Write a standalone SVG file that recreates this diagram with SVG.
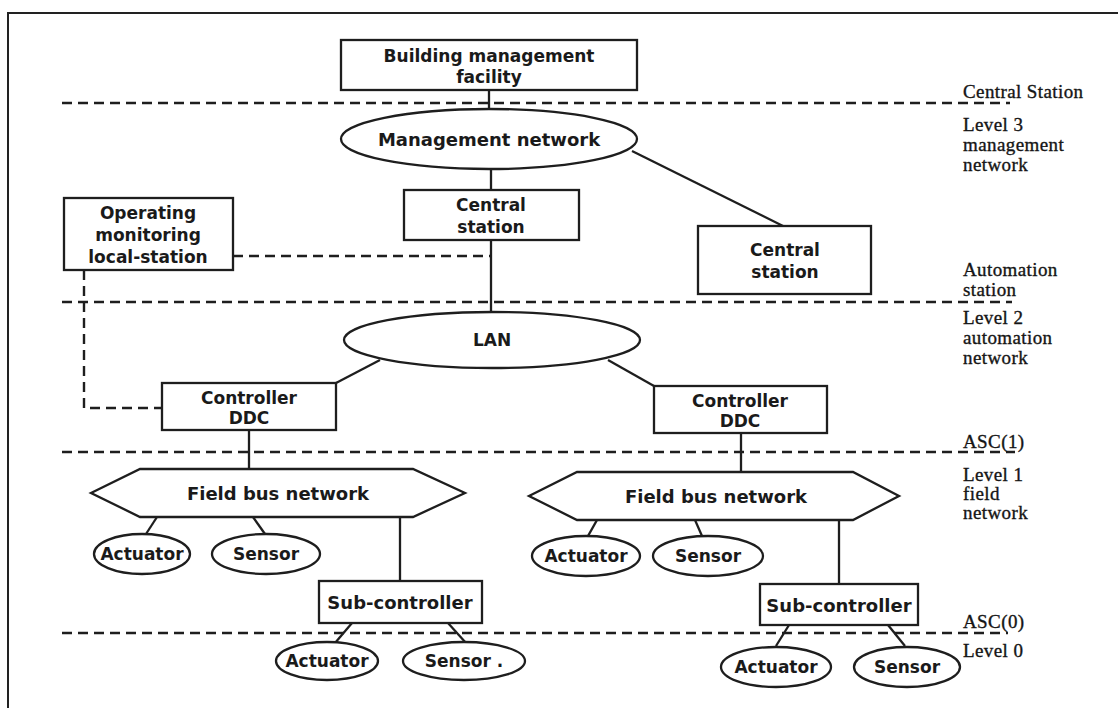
<svg xmlns="http://www.w3.org/2000/svg" width="1118" height="708" viewBox="0 0 1118 708">
<style>
.bg{fill:#ffffff}
.frame{fill:none;stroke:#222;stroke-width:2}
.box{fill:#fff;stroke:#1e1e1e;stroke-width:2.3}
.ln{fill:none;stroke:#1e1e1e;stroke-width:2.3}
.dash{fill:none;stroke:#1e1e1e;stroke-width:2.4;stroke-dasharray:10 6}
.t{font-family:"DejaVu Sans","Liberation Sans",sans-serif;font-weight:bold;font-size:17px;fill:#1a1a1a;text-anchor:middle;dominant-baseline:central}
.tl{font-size:18px}
.r{font-family:"Liberation Serif","DejaVu Serif",serif;font-size:19px;letter-spacing:0.4px;fill:#151515;stroke:#151515;stroke-width:0.35}
</style>
<rect class="bg" x="0" y="0" width="1118" height="708"/>
<path class="frame" d="M8,708 V13 H1118"/>

<g id="level-lines">
<line class="dash" x1="62" y1="103" x2="1010" y2="103"/>
<line class="dash" x1="62" y1="302" x2="1012" y2="302"/>
<line class="dash" x1="62" y1="452" x2="1015" y2="452"/>
<line class="dash" x1="62" y1="633" x2="1008" y2="633"/>
</g>

<g id="connectors">
<line class="ln" x1="489" y1="90" x2="489" y2="109"/>
<line class="ln" x1="491" y1="169" x2="491" y2="190"/>
<line class="ln" x1="632" y1="151" x2="783" y2="226"/>
<line class="ln" x1="491" y1="240" x2="491" y2="312"/>
<line class="dash" x1="233" y1="256" x2="491" y2="256"/>
<path class="dash" d="M84,270 V408 H162"/>
<line class="ln" x1="380" y1="360" x2="336" y2="383"/>
<line class="ln" x1="608" y1="360" x2="654" y2="386"/>
<line class="ln" x1="249" y1="430" x2="249" y2="469"/>
<line class="ln" x1="741" y1="433" x2="741" y2="472"/>
<line class="ln" x1="157" y1="517" x2="146" y2="534"/>
<line class="ln" x1="253" y1="517" x2="265" y2="534"/>
<line class="ln" x1="400" y1="517" x2="400" y2="581"/>
<line class="ln" x1="597" y1="520" x2="588" y2="536"/>
<line class="ln" x1="695" y1="520" x2="702" y2="536"/>
<line class="ln" x1="839" y1="520" x2="839" y2="584"/>
<line class="ln" x1="352" y1="623" x2="335" y2="643"/>
<line class="ln" x1="448" y1="623" x2="466" y2="643"/>
<line class="ln" x1="789" y1="625" x2="776" y2="646"/>
<line class="ln" x1="888" y1="625" x2="905" y2="646"/>
</g>

<g id="building-management">
<rect class="box" x="341" y="40" width="296" height="50"/>
<text class="t" x="489" y="56">Building management</text>
<text class="t" x="489" y="77">facility</text>
</g>

<g id="management-network">
<ellipse class="box" cx="489" cy="139" rx="148" ry="30"/>
<text class="t tl" x="489" y="139">Management network</text>
</g>

<g id="central-station-1">
<rect class="box" x="404" y="190" width="175" height="50"/>
<text class="t" x="491" y="205">Central</text>
<text class="t" x="491" y="227">station</text>
</g>

<g id="central-station-2">
<rect class="box" x="698" y="226" width="173" height="68"/>
<text class="t" x="785" y="250">Central</text>
<text class="t" x="785" y="272">station</text>
</g>

<g id="operating-station">
<rect class="box" x="64" y="198" width="169" height="72"/>
<text class="t" x="148" y="213">Operating</text>
<text class="t" x="148" y="235">monitoring</text>
<text class="t" x="148" y="257">local-station</text>
</g>

<g id="lan">
<ellipse class="box" cx="492" cy="340" rx="148" ry="28"/>
<text class="t" x="492" y="340">LAN</text>
</g>

<g id="controller-left">
<rect class="box" x="162" y="383" width="174" height="47"/>
<text class="t" x="249" y="398">Controller</text>
<text class="t" x="249" y="418">DDC</text>
</g>

<g id="controller-right">
<rect class="box" x="654" y="386" width="173" height="47"/>
<text class="t" x="740" y="401">Controller</text>
<text class="t" x="740" y="421">DDC</text>
</g>

<g id="fieldbus-left">
<polygon class="box" points="91,493 140,469 413,469 465,493 413,517 140,517"/>
<text class="t tl" x="278" y="493">Field bus network</text>
</g>

<g id="fieldbus-right">
<polygon class="box" points="529,496 577,472 853,472 899,496 853,520 577,520"/>
<text class="t tl" x="716" y="496">Field bus network</text>
</g>

<g id="actuator-l1">
<ellipse class="box" cx="142" cy="554" rx="48" ry="20"/>
<text class="t" x="142" y="554">Actuator</text>
</g>
<g id="sensor-l1">
<ellipse class="box" cx="266" cy="554" rx="54" ry="20"/>
<text class="t" x="266" y="554">Sensor</text>
</g>
<g id="actuator-r1">
<ellipse class="box" cx="586" cy="556" rx="54" ry="20"/>
<text class="t" x="586" y="556">Actuator</text>
</g>
<g id="sensor-r1">
<ellipse class="box" cx="708" cy="556" rx="55" ry="20"/>
<text class="t" x="708" y="556">Sensor</text>
</g>

<g id="subcontroller-left">
<rect class="box" x="319" y="581" width="163" height="42"/>
<text class="t tl" x="400" y="602">Sub-controller</text>
</g>
<g id="subcontroller-right">
<rect class="box" x="760" y="584" width="158" height="41"/>
<text class="t tl" x="839" y="605">Sub-controller</text>
</g>

<g id="actuator-l0">
<ellipse class="box" cx="327" cy="661" rx="51" ry="19"/>
<text class="t" x="327" y="661">Actuator</text>
</g>
<g id="sensor-l0">
<ellipse class="box" cx="464" cy="661" rx="61" ry="19"/>
<text class="t" x="464" y="661">Sensor .</text>
</g>
<g id="actuator-r0">
<ellipse class="box" cx="776" cy="667" rx="55" ry="20"/>
<text class="t" x="776" y="667">Actuator</text>
</g>
<g id="sensor-r0">
<ellipse class="box" cx="907" cy="667" rx="53" ry="20"/>
<text class="t" x="907" y="667">Sensor</text>
</g>

<g id="level-labels">
<text class="r" x="963" y="98">Central Station</text>
<text class="r" x="963" y="131">Level 3</text>
<text class="r" x="963" y="151">management</text>
<text class="r" x="963" y="171">network</text>
<text class="r" x="963" y="276">Automation</text>
<text class="r" x="963" y="296">station</text>
<text class="r" x="963" y="324">Level 2</text>
<text class="r" x="963" y="344">automation</text>
<text class="r" x="963" y="364">network</text>
<text class="r" x="963" y="448">ASC(1)</text>
<text class="r" x="963" y="481">Level 1</text>
<text class="r" x="963" y="500">field</text>
<text class="r" x="963" y="519">network</text>
<text class="r" x="963" y="628">ASC(0)</text>
<text class="r" x="963" y="657">Level 0</text>
</g>
</svg>
